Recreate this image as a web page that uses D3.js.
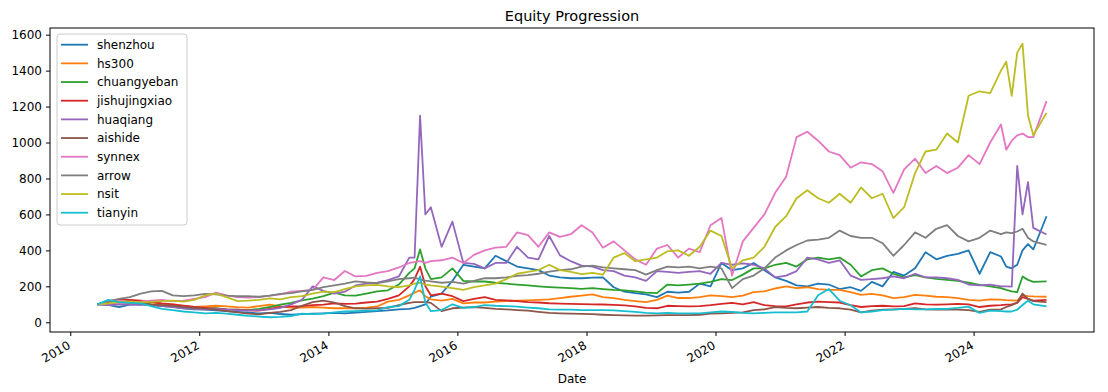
<!DOCTYPE html>
<html><head><meta charset="utf-8">
<script src="https://cdn.jsdelivr.net/npm/d3@7"></script>
<style>
body{margin:0;background:#fff}
text{font-family:"DejaVu Sans",sans-serif}
</style>
</head><body>
<svg id="chart" width="1108" height="392"></svg>
<script>
const dates = ["2010-06","2010-08","2010-10","2010-12",
"2011-02","2011-04","2011-06","2011-08","2011-10","2011-12",
"2012-02","2012-04","2012-06","2012-08","2012-10","2012-12",
"2013-02","2013-04","2013-06","2013-08","2013-10","2013-12",
"2014-02","2014-04","2014-06","2014-08","2014-10","2014-12",
"2015-02","2015-04","2015-05","2015-06","2015-07","2015-08","2015-10","2015-12",
"2016-02","2016-04","2016-06","2016-08","2016-10","2016-12",
"2017-02","2017-04","2017-06","2017-08","2017-10","2017-12",
"2018-02","2018-04","2018-06","2018-08","2018-10","2018-12",
"2019-02","2019-04","2019-06","2019-08","2019-10","2019-12",
"2020-02","2020-04","2020-06","2020-08","2020-10","2020-12",
"2021-02","2021-04","2021-06","2021-08","2021-10","2021-12",
"2022-02","2022-04","2022-06","2022-08","2022-10","2022-12",
"2023-02","2023-04","2023-06","2023-08","2023-10","2023-12",
"2024-02","2024-04","2024-06","2024-07","2024-08","2024-09","2024-10","2024-11","2024-12",
"2025-02-14"];

const shenzhou = [100,97,84,98,100,97,92,86,78,72,
70,66,62,58,53,50,52,46,42,45,
48,50,52,50,54,58,62,66,72,75,
80,90,100,143,160,230,320,310,300,370,
340,310,300,290,260,250,245,245,248,250,
195,170,162,155,140,170,165,170,215,200,
330,290,300,330,290,250,230,205,200,215,
210,185,195,175,225,200,280,260,300,390,
350,370,380,400,270,390,366,310,300,320,
400,435,405,590];

const hs300 = [100,102,112,108,110,112,103,100,90,85,
88,92,88,84,82,90,98,88,82,82,
85,82,78,78,78,82,88,115,125,150,
165,178,145,128,120,130,105,110,110,115,
118,120,122,125,128,135,142,148,155,140,
135,125,118,112,125,148,135,135,140,150,
145,140,148,168,172,188,200,190,195,185,
180,180,168,152,158,150,135,140,152,148,
142,140,135,125,120,128,126,123,122,120,
150,146,144,142];

const chuangyeban = [100,105,110,118,110,100,90,88,80,74,
76,78,72,70,68,75,85,98,108,122,
132,145,165,150,148,160,172,178,210,275,
300,405,300,240,250,300,230,227,227,220,
215,210,205,200,196,193,190,186,190,185,
180,178,172,165,162,210,205,210,215,225,
240,235,265,300,300,320,330,310,350,360,
350,360,320,255,290,300,270,250,262,250,
242,236,230,220,208,200,190,180,172,168,
255,236,225,228];

const jishujingxiao = [100,118,128,125,120,112,105,100,92,85,
80,76,72,70,66,65,75,85,88,90,
95,98,105,102,104,110,115,130,150,200,
240,310,200,150,160,145,118,130,140,125,
122,118,112,110,106,104,102,101,100,99,
97,94,88,80,78,92,90,88,90,95,
102,108,100,112,95,90,88,100,110,115,
112,110,95,85,90,92,88,90,105,100,
98,100,102,100,85,92,95,98,100,108,
140,130,120,125];

const huaqiang = [100,95,98,100,98,95,90,85,78,75,
72,75,70,68,65,68,72,80,100,125,
200,175,160,170,205,215,220,235,255,360,
360,1150,600,640,420,560,330,325,300,330,
330,420,360,350,480,372,340,315,310,290,
285,260,250,230,285,280,275,280,285,270,
330,320,328,320,300,250,260,285,360,350,
330,345,260,236,240,245,255,245,270,250,
250,245,236,210,205,210,200,200,198,870,
600,780,525,488];

const aishide = [100,108,112,110,105,98,96,92,86,80,
76,70,62,55,48,44,52,58,68,92,
112,120,110,90,78,76,78,80,95,108,
112,112,112,108,62,78,82,85,80,75,
72,68,65,58,52,50,48,47,45,42,
40,38,37,37,38,40,40,40,42,48,
50,52,55,68,72,85,80,78,82,85,
80,78,70,55,65,70,72,75,78,72,
70,72,70,68,58,70,72,85,95,110,
160,130,118,112];

const synnex = [100,105,108,112,115,120,125,118,120,130,
140,165,150,140,138,140,148,155,170,175,
180,250,235,285,255,258,275,285,305,330,
335,340,330,340,345,360,330,375,400,415,
420,500,485,420,500,475,490,540,500,415,
450,400,350,320,410,430,360,410,390,540,
580,260,450,525,600,720,810,1030,1060,1010,
950,930,860,890,880,840,720,850,910,830,
870,830,860,930,880,1000,1100,960,1010,1040,
1050,1030,1030,1230];

const arrow = [100,115,130,140,160,172,175,150,145,150,
158,155,148,145,145,142,148,158,162,172,
180,195,205,215,228,222,218,228,240,245,
248,238,232,228,220,225,215,230,245,245,
250,258,262,270,282,290,295,310,315,305,
300,295,290,265,290,310,305,310,300,310,
300,190,240,260,300,360,400,430,455,460,
470,510,480,470,470,440,370,430,500,470,
520,540,480,450,470,510,490,500,496,505,
520,470,450,430];

const nsit = [100,105,112,115,112,114,118,120,115,125,
150,160,140,118,120,125,133,128,140,145,
160,170,168,185,200,205,208,200,195,205,
215,220,210,205,198,190,180,195,205,215,
240,270,280,290,320,290,280,268,275,265,
360,385,340,350,360,395,400,370,420,510,
480,300,345,360,420,530,590,690,735,690,
665,715,665,750,690,715,580,640,830,950,
960,1050,1000,1260,1285,1275,1400,1450,1260,1500,
1550,1150,1040,1165];

const tianyin = [100,125,112,108,105,90,75,68,60,55,
50,52,48,42,36,32,28,30,35,48,
45,48,55,60,62,65,66,85,90,125,
180,255,110,62,68,100,80,85,96,92,
90,87,82,78,72,70,70,68,68,68,
66,62,58,52,50,52,50,50,50,55,
60,58,52,50,52,55,55,55,60,150,
185,120,95,55,60,68,70,75,72,72,
74,75,80,87,52,65,62,60,60,70,
96,120,100,88];

const seriesNames = ["shenzhou","hs300","chuangyeban","jishujingxiao","huaqiang","aishide","synnex","arrow","nsit","tianyin"];
const seriesValues = [shenzhou,hs300,chuangyeban,jishujingxiao,huaqiang,aishide,synnex,arrow,nsit,tianyin];
const colors = ["#1f77b4","#ff7f0e","#2ca02c","#d62728","#9467bd","#8c564b","#e377c2","#7f7f7f","#bcbd22","#17becf"];
const yTicks = [0,200,400,600,800,1000,1200,1400,1600];
const yDomain = [-54, 1637];
const titleText = "Equity Progression";
const xLabel = "Date";

const W = 1108, H = 392;
const plot = {left: 50, right: 1094, top: 28, bottom: 332};
const parse = s => d3.utcParse(s.length === 7 ? "%Y-%m" : "%Y-%m-%d")(s);
const dateObjs = dates.map(parse);

const ext = d3.extent(dateObjs);
const pad = (ext[1] - ext[0]) * 0.05;
const x = d3.scaleUtc().domain([new Date(+ext[0] - pad), new Date(+ext[1] + pad)]).range([plot.left, plot.right]);
const y = d3.scaleLinear().domain(yDomain).range([plot.bottom, plot.top]);

const svg = d3.select("#chart");
svg.append("rect").attr("width", W).attr("height", H).attr("fill", "#fff");

svg.append("defs").append("clipPath").attr("id", "clip")
  .append("rect").attr("x", plot.left).attr("y", plot.top)
  .attr("width", plot.right - plot.left).attr("height", plot.bottom - plot.top);

const line = d3.line().x(d => x(d[0])).y(d => y(d[1]));
const g = svg.append("g").attr("clip-path", "url(#clip)");
seriesValues.forEach((vals, i) => {
  const pts = vals.map((v, j) => [dateObjs[j], v]);
  g.append("path").datum(pts)
    .attr("fill", "none").attr("stroke", colors[i]).attr("stroke-width", 1.8)
    .attr("stroke-linejoin", "round").attr("stroke-linecap", "butt")
    .attr("d", line);
});

// axes
const yAxis = d3.axisLeft(y).tickValues(yTicks).tickSize(4).tickPadding(4).tickFormat(d3.format("d"));
const ya = svg.append("g").attr("transform", `translate(${plot.left},0)`).call(yAxis);
ya.select(".domain").remove();
ya.selectAll("text").attr("font-size", 12).attr("fill", "#000").attr("font-family", "DejaVu Sans");
ya.selectAll("line").attr("stroke", "#000").attr("stroke-width", 1);

const xTicks = x.ticks(d3.utcYear.every(2));
const xa = svg.append("g");
xTicks.forEach(t => {
  const px = x(t);
  xa.append("line").attr("x1", px).attr("x2", px).attr("y1", plot.bottom).attr("y2", plot.bottom + 4)
    .attr("stroke", "#000").attr("stroke-width", 1);
  xa.append("text").attr("transform", `translate(${px - 4},${plot.bottom + 8}) rotate(-30)`)
    .attr("text-anchor", "end").attr("dy", "0.75em").attr("font-size", 12).attr("fill", "#000")
    .text(d3.utcFormat("%Y")(t));
});

// frame
svg.append("rect").attr("x", plot.left).attr("y", plot.top)
  .attr("width", plot.right - plot.left).attr("height", plot.bottom - plot.top)
  .attr("fill", "none").attr("stroke", "#000").attr("stroke-width", 1);

// title and label
svg.append("text").attr("x", (plot.left + plot.right) / 2).attr("y", 21)
  .attr("text-anchor", "middle").attr("font-size", 14.5).attr("fill", "#000").text(titleText);
svg.append("text").attr("x", (plot.left + plot.right) / 2).attr("y", 383)
  .attr("text-anchor", "middle").attr("font-size", 12).attr("fill", "#000").text(xLabel);

// legend
const lg = svg.append("g");
lg.append("rect").attr("x", 57).attr("y", 34).attr("width", 130).attr("height", 191)
  .attr("rx", 3).attr("fill", "#fff").attr("fill-opacity", 0.8).attr("stroke", "#cccccc").attr("stroke-width", 1);
seriesNames.forEach((name, i) => {
  const cy = 44.7 + i * 18.67;
  lg.append("line").attr("x1", 61).attr("x2", 88).attr("y1", cy).attr("y2", cy)
    .attr("stroke", colors[i]).attr("stroke-width", 1.8);
  lg.append("text").attr("x", 97).attr("y", cy).attr("dy", "0.35em")
    .attr("font-size", 12).attr("fill", "#000").text(name);
});
</script>
</body></html>
